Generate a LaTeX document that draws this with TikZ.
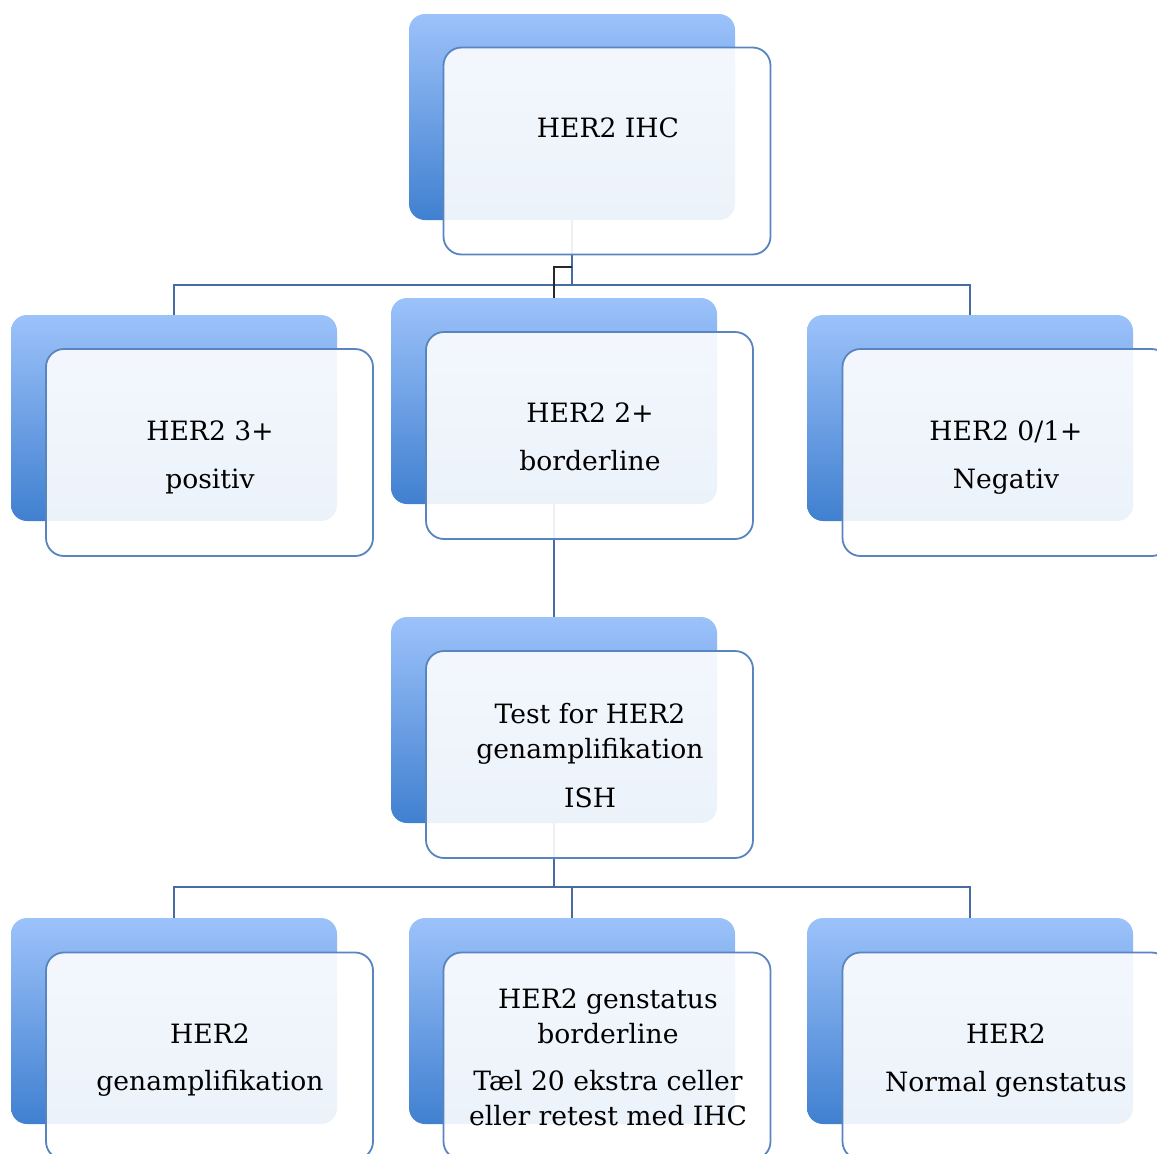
\documentclass[tikz,border=0pt]{standalone}
\usepackage{fontspec}
\setmainfont{DejaVu Serif}
\definecolor{gradtop}{RGB}{156,194,250}
\definecolor{gradbot}{RGB}{64,128,208}
\definecolor{frontline}{RGB}{88,132,192}
\definecolor{connblue}{RGB}{72,108,160}
\definecolor{connblack}{RGB}{40,40,40}
\tikzset{
  backbox/.style={rounded corners=16pt, minimum width=326pt, minimum height=206pt, inner sep=0pt,
    top color=gradtop, bottom color=gradbot, draw=none},
  frontbox/.style={rounded corners=18pt, minimum width=327pt, minimum height=207pt, inner sep=0pt,
    draw=frontline, line width=1.8pt, fill=white, fill opacity=0.9},
  conn/.style={draw=connblue, line width=2pt},
  connblk/.style={draw=connblack, line width=2pt},
  txt/.style={anchor=base, inner sep=0pt, font=\fontsize{26.6}{35}\selectfont, text=black}
}
\begin{document}
\begin{tikzpicture}[x=1pt,y=-1pt]
\useasboundingbox (0,0) rectangle (1157,1154);
\clip (0,0) rectangle (1157,1154);
% back boxes
\node[backbox] (b1) at (572,117) {};
\node[backbox] (b2) at (174,418) {};
\node[backbox] (b3) at (554,401) {};
\node[backbox] (b4) at (970,418) {};
\node[backbox] (b5) at (554,720) {};
\node[backbox] (b6) at (174,1021) {};
\node[backbox] (b7) at (572,1021) {};
\node[backbox] (b8) at (970,1021) {};
% connectors
\coordinate (j1) at (572,285);
\coordinate (k1) at (572,267);
\coordinate (j2) at (554,887);
\draw[conn] (b1.south) -- (j1);
\draw[conn] (b2.north) |- (j1) -| (b4.north);
\draw[conn] (b3.south) -- (b5.north);
\draw[conn] (b5.south) -- (j2);
\draw[conn] (b6.north) |- (j2) -| (b8.north);
\draw[conn] (b7.north) -- (b7.north |- j2);
% front boxes
\node[frontbox] (f1) at (607,151) {};
\node[frontbox] (f2) at (209.5,452.5) {};
\node[frontbox] (f3) at (589.5,435.5) {};
\node[frontbox] (f4) at (1006,452.5) {};
\node[frontbox] (f5) at (589.5,754.5) {};
\node[frontbox] (f6) at (209.5,1056) {};
\node[frontbox] (f7) at (607,1056) {};
\node[frontbox] (f8) at (1006,1056) {};
\draw[connblk] (k1) -| (b3.north);
% texts
\node[txt] (t1) at (608,137) {HER2 IHC};
\node[txt] (t2a) at (210,440) {HER2 3+};
\node[txt] (t2b) at (210,488) {positiv};
\node[txt] (t3a) at (590,422) {HER2 2+};
\node[txt] (t3b) at (590,470) {borderline};
\node[txt] (t4a) at (1006,440) {HER2 0/1+};
\node[txt] (t4b) at (1006,488) {Negativ};
\node[txt] (t5a) at (590,723) {Test for HER2};
\node[txt] (t5b) at (590,758) {genamplifikation};
\node[txt] (t5c) at (590,807) {ISH};
\node[txt] (t6a) at (210,1043) {HER2};
\node[txt] (t6b) at (210,1090) {genamplifikation};
\node[txt] (t7a) at (608,1008) {HER2 genstatus};
\node[txt] (t7b) at (608,1043) {borderline};
\node[txt] (t7c) at (608,1090) {Tæl 20 ekstra celler};
\node[txt] (t7d) at (608,1125) {eller retest med IHC};
\node[txt] (t8a) at (1006,1043) {HER2};
\node[txt] (t8b) at (1006,1091) {Normal genstatus};
\end{tikzpicture}
\end{document}
